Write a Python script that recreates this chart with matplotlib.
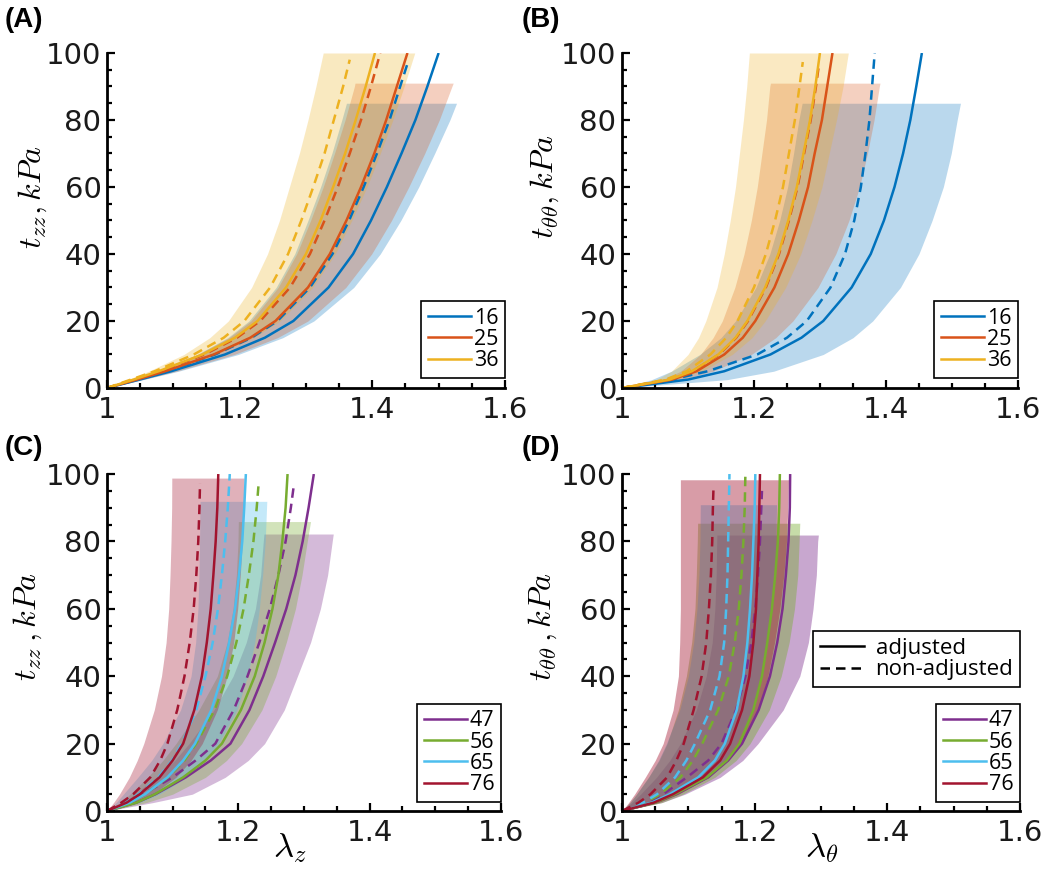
import matplotlib
matplotlib.use('Agg')
import matplotlib.pyplot as plt
from matplotlib.ticker import MultipleLocator, FixedLocator, FixedFormatter
from matplotlib.lines import Line2D

plt.rcParams['mathtext.fontset'] = 'cm'
plt.rcParams['font.family'] = ['DejaVu Sans']

# stress levels (kPa) at which the stretch of each curve was read
Y = [0, 2.5, 5, 10, 15, 20, 30, 40, 50, 60, 70, 80, 90, 100]

# ---------------- Panel A : t_zz vs lambda_z, ages 16/25/36 ----------------
A_labels = ['16', '25', '36']
A16_adj = [1, 1.049, 1.097, 1.178, 1.238, 1.281, 1.334, 1.371, 1.398, 1.422, 1.444, 1.465, 1.483, 1.500]
A16_adj_top = 100
A16_non = [1, 1.045, 1.089, 1.163, 1.218, 1.257, 1.306, 1.340, 1.365, 1.387, 1.407, 1.426, 1.442, 1.453]
A16_non_top = 96.8
A16_up = [1, 1.038, 1.074, 1.136, 1.182, 1.214, 1.255, 1.283, 1.303, 1.322, 1.339, 1.354, 1.361]
A16_lo = [1, 1.055, 1.108, 1.198, 1.265, 1.312, 1.372, 1.412, 1.443, 1.470, 1.494, 1.517, 1.527]
A16_cap = 85
A25_adj = [1, 1.045, 1.088, 1.161, 1.216, 1.254, 1.303, 1.336, 1.361, 1.383, 1.403, 1.421, 1.437, 1.453]
A25_adj_top = 100
A25_non = [1, 1.041, 1.080, 1.147, 1.196, 1.231, 1.276, 1.306, 1.328, 1.348, 1.366, 1.383, 1.398, 1.412]
A25_non_top = 100
A25_up = [1, 1.038, 1.075, 1.137, 1.184, 1.217, 1.258, 1.286, 1.307, 1.326, 1.343, 1.359, 1.373, 1.374]
A25_lo = [1, 1.053, 1.105, 1.192, 1.257, 1.303, 1.360, 1.399, 1.429, 1.455, 1.479, 1.501, 1.520, 1.522]
A25_cap = 91
A36_adj = [1, 1.040, 1.078, 1.144, 1.193, 1.227, 1.270, 1.300, 1.322, 1.341, 1.359, 1.375, 1.390, 1.404]
A36_adj_top = 100
A36_non = [1, 1.036, 1.072, 1.131, 1.176, 1.207, 1.246, 1.273, 1.293, 1.311, 1.328, 1.342, 1.356, 1.366]
A36_non_top = 98
A36_up = [1, 1.032, 1.063, 1.116, 1.155, 1.183, 1.218, 1.242, 1.260, 1.275, 1.290, 1.303, 1.315, 1.326]
A36_lo = [1, 1.046, 1.090, 1.165, 1.221, 1.261, 1.310, 1.344, 1.369, 1.392, 1.412, 1.431, 1.448, 1.464]
A36_cap = 100

# ---------------- Panel B : t_thth vs lambda_theta, ages 16/25/36 ----------------
B16_adj = [1, 1.100, 1.155, 1.225, 1.272, 1.305, 1.348, 1.377, 1.397, 1.413, 1.426, 1.437, 1.446, 1.4545]
B16_adj_top = 100
B16_non = [1, 1.075, 1.130, 1.205, 1.250, 1.280, 1.316, 1.338, 1.352, 1.362, 1.369, 1.375, 1.379, 1.383]
B16_non_top = 100
B16_up = [1, 1.045, 1.075, 1.118, 1.150, 1.172, 1.203, 1.224, 1.239, 1.251, 1.260, 1.268, 1.273]
B16_lo = [1, 1.160, 1.230, 1.305, 1.350, 1.380, 1.422, 1.450, 1.470, 1.487, 1.499, 1.508, 1.513]
B16_cap = 85
B25_adj = [1, 1.076, 1.113, 1.155, 1.183, 1.202, 1.231, 1.252, 1.268, 1.282, 1.292, 1.303, 1.311, 1.319]
B25_adj_top = 100
B25_non = [1, 1.072, 1.107, 1.147, 1.173, 1.191, 1.218, 1.238, 1.253, 1.266, 1.276, 1.286, 1.294, 1.298]
B25_non_top = 95.8
B25_up = [1, 1.062, 1.089, 1.119, 1.138, 1.152, 1.171, 1.185, 1.196, 1.205, 1.212, 1.219, 1.224, 1.225]
B25_lo = [1, 1.090, 1.138, 1.196, 1.233, 1.259, 1.297, 1.324, 1.344, 1.360, 1.372, 1.382, 1.390, 1.391]
B25_cap = 91
B36_adj = [1, 1.072, 1.106, 1.146, 1.172, 1.190, 1.217, 1.237, 1.252, 1.265, 1.275, 1.285, 1.293, 1.300]
B36_adj_top = 100
B36_non = [1, 1.066, 1.098, 1.134, 1.158, 1.175, 1.200, 1.218, 1.232, 1.244, 1.253, 1.262, 1.269, 1.274]
B36_non_top = 97.3
B36_up = [1, 1.052, 1.075, 1.100, 1.116, 1.127, 1.144, 1.155, 1.164, 1.172, 1.178, 1.184, 1.189, 1.193]
B36_lo = [1, 1.082, 1.121, 1.167, 1.197, 1.217, 1.248, 1.271, 1.288, 1.303, 1.314, 1.325, 1.335, 1.343]
B36_cap = 100

# ---------------- Panel C : t_zz vs lambda_z, ages 47/56/65/76 ----------------
C_labels = ['47', '56', '65', '76']
C47_adj = [1, 1.045, 1.074, 1.120, 1.158, 1.188, 1.217, 1.238, 1.256, 1.273, 1.287, 1.298, 1.307, 1.315]
C47_adj_top = 100
C47_non = [1, 1.030, 1.055, 1.100, 1.135, 1.165, 1.193, 1.214, 1.232, 1.248, 1.261, 1.272, 1.280, 1.285]
C47_non_top = 97.3
C47_up = [1, 1.025, 1.042, 1.075, 1.103, 1.125, 1.163, 1.192, 1.212, 1.226, 1.234, 1.238, 1.239]
C47_lo = [1, 1.070, 1.130, 1.180, 1.215, 1.240, 1.270, 1.290, 1.310, 1.325, 1.336, 1.343, 1.3446]
C47_cap = 82.2
C56_adj = [1, 1.045, 1.073, 1.116, 1.150, 1.175, 1.204, 1.225, 1.240, 1.252, 1.261, 1.267, 1.272, 1.275]
C56_adj_top = 100
C56_non = [1, 1.035, 1.058, 1.093, 1.118, 1.136, 1.164, 1.183, 1.197, 1.208, 1.216, 1.223, 1.228, 1.231]
C56_non_top = 97.3
C56_up = [1, 1.020, 1.035, 1.062, 1.085, 1.105, 1.140, 1.168, 1.183, 1.192, 1.197, 1.1995, 1.200]
C56_lo = [1, 1.060, 1.100, 1.150, 1.182, 1.205, 1.236, 1.257, 1.273, 1.287, 1.297, 1.305, 1.310]
C56_cap = 85.9
C65_adj = [1, 1.035, 1.058, 1.092, 1.116, 1.134, 1.159, 1.175, 1.186, 1.195, 1.201, 1.206, 1.209, 1.2115]
C65_adj_top = 100
C65_non = [1, 1.028, 1.048, 1.078, 1.099, 1.114, 1.136, 1.150, 1.161, 1.169, 1.175, 1.180, 1.184, 1.187]
C65_non_top = 100
C65_up = [1, 1.014, 1.025, 1.047, 1.068, 1.085, 1.112, 1.128, 1.135, 1.1385, 1.140, 1.141, 1.1415, 1.1417]
C65_lo = [1, 1.050, 1.080, 1.122, 1.150, 1.170, 1.198, 1.214, 1.225, 1.232, 1.237, 1.241, 1.243, 1.2434]
C65_cap = 91.9
C76_adj = [1, 1.030, 1.050, 1.080, 1.100, 1.116, 1.133, 1.1445, 1.152, 1.158, 1.162, 1.1655, 1.168, 1.1695]
C76_adj_top = 100
C76_non = [1, 1.022, 1.040, 1.066, 1.081, 1.092, 1.107, 1.118, 1.126, 1.132, 1.136, 1.139, 1.1408, 1.1417]
C76_non_top = 97.3
C76_up = [1, 1.010, 1.019, 1.034, 1.046, 1.056, 1.072, 1.083, 1.090, 1.094, 1.096, 1.0975, 1.0985, 1.0987]
C76_lo = [1, 1.045, 1.070, 1.105, 1.128, 1.145, 1.168, 1.183, 1.193, 1.199, 1.203, 1.206, 1.208, 1.209]
C76_cap = 98.8

# ---------------- Panel D : t_thth vs lambda_theta, ages 47/56/65/76 ----------------
D47_adj = [1, 1.050, 1.082, 1.130, 1.160, 1.181, 1.206, 1.223, 1.234, 1.242, 1.247, 1.251, 1.253, 1.2535]
D47_adj_top = 100
D47_non = [1, 1.038, 1.062, 1.098, 1.130, 1.150, 1.172, 1.186, 1.195, 1.201, 1.205, 1.208, 1.210, 1.211]
D47_non_top = 95
D47_up = [1, 1.015, 1.028, 1.052, 1.072, 1.088, 1.112, 1.127, 1.136, 1.140, 1.142, 1.1428, 1.143]
D47_lo = [1, 1.060, 1.095, 1.148, 1.182, 1.205, 1.243, 1.268, 1.281, 1.288, 1.293, 1.295, 1.296]
D47_cap = 81.9
D56_adj = [1, 1.050, 1.080, 1.128, 1.158, 1.177, 1.198, 1.211, 1.219, 1.226, 1.231, 1.235, 1.237, 1.238]
D56_adj_top = 100
D56_non = [1, 1.035, 1.058, 1.088, 1.107, 1.121, 1.145, 1.161, 1.170, 1.176, 1.180, 1.183, 1.185, 1.186]
D56_non_top = 100
D56_up = [1, 1.012, 1.022, 1.040, 1.056, 1.068, 1.085, 1.097, 1.105, 1.110, 1.112, 1.1135, 1.114]
D56_lo = [1, 1.060, 1.092, 1.140, 1.172, 1.193, 1.222, 1.240, 1.252, 1.260, 1.265, 1.267, 1.268]
D56_cap = 85.4
D65_adj = [1, 1.045, 1.072, 1.115, 1.140, 1.155, 1.173, 1.183, 1.189, 1.193, 1.196, 1.198, 1.200, 1.201]
D65_adj_top = 100
D65_non = [1, 1.032, 1.053, 1.080, 1.097, 1.110, 1.133, 1.147, 1.154, 1.157, 1.159, 1.160, 1.161, 1.162]
D65_non_top = 100
D65_up = [1, 1.012, 1.022, 1.040, 1.055, 1.067, 1.087, 1.100, 1.108, 1.113, 1.116, 1.1175, 1.118, 1.118]
D65_lo = [1, 1.050, 1.080, 1.125, 1.155, 1.172, 1.197, 1.211, 1.220, 1.226, 1.230, 1.232, 1.233, 1.233]
D65_cap = 90.9
D76_adj = [1, 1.048, 1.077, 1.122, 1.148, 1.163, 1.181, 1.192, 1.198, 1.202, 1.204, 1.206, 1.207, 1.208]
D76_adj_top = 100
D76_non = [1, 1.025, 1.043, 1.068, 1.082, 1.093, 1.108, 1.120, 1.127, 1.131, 1.134, 1.136, 1.137, 1.138]
D76_non_top = 96.5
D76_up = [1, 1.010, 1.019, 1.035, 1.050, 1.062, 1.077, 1.085, 1.087, 1.088, 1.088, 1.088, 1.088, 1.088]
D76_lo = [1, 1.055, 1.085, 1.130, 1.160, 1.180, 1.205, 1.220, 1.230, 1.238, 1.244, 1.248, 1.250, 1.251]
D76_cap = 98.3

X_TICKS = [1, 1.2, 1.4, 1.6]
X_TICKLABELS = ['1', '1.2', '1.4', '1.6']
Y_TICKS = [0, 20, 40, 60, 80, 100]
Y_TICKLABELS = ['0', '20', '40', '60', '80', '100']

COL = {'16': '#0072BD', '25': '#D95319', '36': '#EDB120',
       '47': '#7E2F8E', '56': '#77AC30', '65': '#4DBEEE', '76': '#A2142F'}
BAND_ALPHA = {'A': 0.28, 'B': 0.27, 'C': 0.33, 'D': 0.42}


def levels(top):
    return [y for y in Y if y < top] + [top]


def group(p, lab):
    g = globals()
    k = p + lab
    return dict(adj=g[k + '_adj'], adj_top=g[k + '_adj_top'],
                non=g[k + '_non'], non_top=g[k + '_non_top'],
                up=g[k + '_up'], lo=g[k + '_lo'], cap=g[k + '_cap'])


LW = 1.8
DASH = (0, (3.8, 2.4))

# axes rectangles in figure fractions (left, bottom, width, height)
RECTS = {'A': (0.1019, 0.5556, 0.379, 0.3837),
         'B': (0.5924, 0.5556, 0.377, 0.3837),
         'C': (0.1019, 0.0710, 0.3752, 0.3860),
         'D': (0.5924, 0.0710, 0.3790, 0.3860)}

fig = plt.figure(figsize=(10.5, 8.73), dpi=100)


def style_axes(ax):
    ax.set_xlim(1, 1.6)
    ax.set_ylim(0, 100)
    for s in ('top', 'right'):
        ax.spines[s].set_visible(False)
    for s in ('left', 'bottom'):
        ax.spines[s].set_linewidth(2.0)
    ax.xaxis.set_major_locator(FixedLocator(X_TICKS))
    ax.xaxis.set_major_formatter(FixedFormatter(X_TICKLABELS))
    ax.yaxis.set_major_locator(FixedLocator(Y_TICKS))
    ax.yaxis.set_major_formatter(FixedFormatter(Y_TICKLABELS))
    ax.xaxis.set_minor_locator(MultipleLocator(0.05))
    ax.yaxis.set_minor_locator(MultipleLocator(5))
    ax.tick_params(which='both', direction='in', width=1.6, colors='black')
    ax.tick_params(which='major', length=6, labelsize=21)
    ax.tick_params(axis='x', which='major', pad=6)
    ax.tick_params(axis='y', which='major', pad=4)
    ax.tick_params(which='minor', length=3.5)
    for t in ax.get_xticklabels() + ax.get_yticklabels():
        t.set_color('#1a1a1a')


def draw(ax, p, labs):
    for lab in labs:
        g = group(p, lab)
        ax.fill_betweenx(levels(g['cap']), g['up'], g['lo'],
                         color=COL[lab], alpha=BAND_ALPHA[p], lw=0)
    for lab in labs:
        g = group(p, lab)
        ax.plot(g['adj'], levels(g['adj_top']), color=COL[lab], lw=LW,
                solid_capstyle='butt', solid_joinstyle='round')
        ax.plot(g['non'], levels(g['non_top']), color=COL[lab], lw=LW,
                linestyle=DASH, dash_capstyle='butt')


def color_legend(ax, labs, y0):
    handles = [Line2D([], [], color=COL[l], lw=LW) for l in labs]
    leg = ax.legend(handles, labs, loc='lower right',
                    bbox_to_anchor=(1.0, y0), borderaxespad=0,
                    fancybox=False, framealpha=1, edgecolor='black',
                    prop={'family': 'Open Sans', 'size': 15.5},
                    handlelength=2.0, handletextpad=0.15,
                    labelspacing=0.02, borderpad=0.3)
    leg.get_frame().set_linewidth(1.2)
    return leg


YLAB_ZZ = r'$t_{zz}, kPa$'
YLAB_TT = r'$t_{\theta\theta}, kPa$'
YLAB_ZZ2 = r'$t_{zz}\,, kPa$'
YLAB_TT2 = r'$t_{\theta\theta}\,, kPa$'

panels = [('A', A_labels, YLAB_ZZ, (-0.186, 0.570)),
          ('B', A_labels, YLAB_TT, (-0.194, 0.600)),
          ('C', C_labels, YLAB_ZZ2, (-0.200, 0.546)),
          ('D', C_labels, YLAB_TT2, (-0.198, 0.546))]

axes = {}
for p, labs, ylab, ypos in panels:
    ax = fig.add_axes(RECTS[p])
    axes[p] = ax
    draw(ax, p, labs)
    style_axes(ax)
    ax.text(ypos[0], ypos[1], ylab, rotation=90, ha='center', va='center',
            fontsize=23, transform=ax.transAxes)

color_legend(axes['A'], A_labels, 0.03)
color_legend(axes['B'], A_labels, 0.03)
color_legend(axes['C'], C_labels, 0.027)
legD = color_legend(axes['D'], C_labels, 0.027)
axes['D'].add_artist(legD)
style_handles = [Line2D([], [], color='black', lw=LW),
                 Line2D([], [], color='black', lw=LW, linestyle=DASH)]
leg2 = axes['D'].legend(style_handles, ['adjusted', 'non-adjusted'],
                        loc='lower right', bbox_to_anchor=(1.0, 0.368),
                        borderaxespad=0, fancybox=False, framealpha=1,
                        edgecolor='black',
                        prop={'family': 'Open Sans', 'size': 16},
                        handlelength=2.0, handletextpad=0.5,
                        labelspacing=0.02, borderpad=0.3)
leg2.get_frame().set_linewidth(1.2)

axes['C'].text(0.464, -0.11, r'$\lambda_z$', fontsize=25, ha='center',
               va='center', transform=axes['C'].transAxes)
axes['D'].text(0.5025, -0.11, r'$\lambda_\theta$', fontsize=25, ha='center',
               va='center', transform=axes['D'].transAxes)

for lab, x, y in [('(A)', 0.004, 0.992), ('(B)', 0.497, 0.992),
                  ('(C)', 0.004, 0.502), ('(D)', 0.497, 0.502)]:
    fig.text(x, y, lab, fontsize=20, fontweight='bold', ha='left', va='top',
             family='Liberation Sans')

fig.savefig('out.png', dpi=100)
